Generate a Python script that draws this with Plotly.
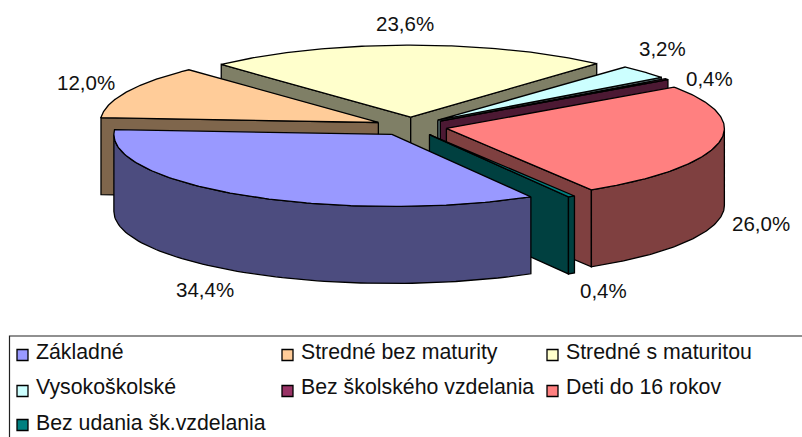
import numpy as np
import plotly.graph_objects as go

categories = ["Základné", "Stredné bez maturity", "Stredné s maturitou", "Vysokoškolské",
              "Bez školského vzdelania", "Deti do 16 rokov", "Bez udania šk.vzdelania"]
values = [34.4, 12.0, 23.6, 3.2, 0.4, 26.0, 0.4]
colors = ["#9999FF", "#FFCC99", "#FFFFCC", "#CCFFFF", "#993366", "#FF8080", "#008080"]
value_labels = ["34,4%", "12,0%", "23,6%", "3,2%", "0,4%", "26,0%", "0,4%"]

# layout of the pseudo-3D pie (pixel-like axis units)
W, H = 802, 437
CX, CY, RX, RY = 411, 126.5, 278, 72
DEPTH, EXPLODE, FIRST_ANGLE = 77, 0.13, 150.0
draw_order = [2, 1, 3, 4, 5, 6, 0]
label_pos = [(205, 289.5), (86, 82.5), (405, 23.5), (662, 48.5), (709, 78.5), (761, 223.5), (603, 290.5)]
legend_x = [17, 282, 547]
legend_y = [355, 391, 425]
legend_text_y = [352, 387, 423]

def halve(hexcol):
    r, g, b = (int(hexcol[i:i + 2], 16) // 2 for i in (1, 3, 5))
    return f"rgb({r},{g},{b})"

def pt(deg):
    a = np.radians(deg)
    return np.sin(a), -np.cos(a)

fig = go.Figure()

def poly(xs, ys, fill, name):
    fig.add_trace(go.Scatter(x=list(xs), y=list(ys), mode="lines", fill="toself",
                             fillcolor=fill, line=dict(color="black", width=1.3),
                             hoverinfo="skip", showlegend=False, name=name))

edges = FIRST_ANGLE + np.concatenate([[0], np.cumsum(values)]) * 3.6

for i in draw_order:
    a0 = edges[i] % 360
    a1 = a0 + (edges[i + 1] - edges[i])
    mid = (a0 + a1) / 2
    mx, my = pt(mid)
    ax, ay = CX + EXPLODE * RX * mx, CY + EXPLODE * RY * my
    side = halve(colors[i])
    # radial cut faces that look towards the viewer
    for a in (a0, a1):
        dx, dy = pt(a)
        if (dx * my - dy * mx) / dx < 0:
            ex, ey = ax + RX * dx, ay + RY * dy
            poly([ax, ex, ex, ax, ax], [ay, ey, ey + DEPTH, ay + DEPTH, ay], side, categories[i])
    # outer curved wall: the part on the front half of the ellipse
    lo, hi = max(a0, 90), min(a1, 270)
    if hi > lo:
        t = np.linspace(lo, hi, 80)
        sx, sy = pt(t)
        xs = ax + RX * sx
        ys = ay + RY * sy
        poly(np.r_[xs, xs[::-1], xs[0]], np.r_[ys, ys[::-1] + DEPTH, ys[0]], side, categories[i])
    # top
    t = np.linspace(a0, a1, 120)
    sx, sy = pt(t)
    poly(np.r_[ax, ax + RX * sx, ax], np.r_[ay, ay + RY * sy, ay], colors[i], categories[i])

annotations = []
for txt, (x, y) in zip(value_labels, label_pos):
    annotations.append(dict(x=x, y=y, text=txt, showarrow=False, xanchor="center", yanchor="middle",
                            font=dict(family="Liberation Sans", size=20.5, color="#111111")))

shapes = [dict(type="rect", x0=9.5, y0=336, x1=803, y1=438, line=dict(color="#222222", width=1.2),
               fillcolor="white", layer="below")]
for i, name in enumerate(categories):
    col, row = i % 3, i // 3
    x, y = legend_x[col], legend_y[row]
    shapes.append(dict(type="rect", x0=x, x1=x + 11, y0=y - 5.5, y1=y + 5.5,
                       fillcolor=colors[i], line=dict(color="black", width=1.3)))
    annotations.append(dict(x=x + 17, y=legend_text_y[row], text=name, showarrow=False, xanchor="left",
                            yanchor="middle",
                            font=dict(family="Liberation Sans", size=21.3, color="#111111")))

fig.update_layout(
    width=W, height=H, margin=dict(l=0, r=0, t=0, b=0),
    paper_bgcolor="white", plot_bgcolor="white", showlegend=False,
    xaxis=dict(range=[0, W], visible=False, fixedrange=True),
    yaxis=dict(range=[H, 0], visible=False, fixedrange=True),
    annotations=annotations, shapes=shapes,
)
fig.write_html("out.html", config={"displayModeBar": False},
               post_script="document.body.style.margin='0';document.body.style.overflow='hidden';")
